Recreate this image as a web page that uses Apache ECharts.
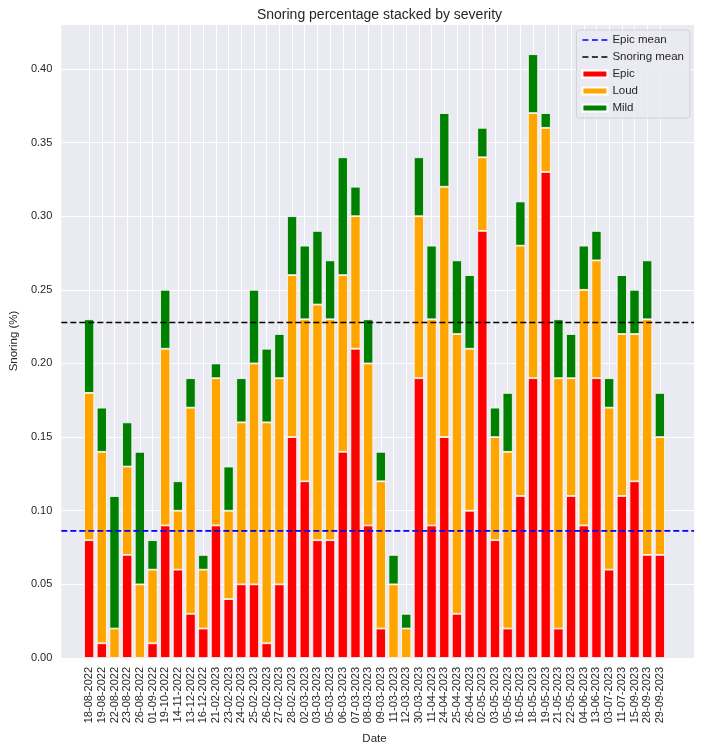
<!DOCTYPE html>
<html>
<head>
<meta charset="utf-8">
<script src="https://cdn.jsdelivr.net/npm/echarts@6/dist/echarts.min.js"></script>
<style>html,body{margin:0;padding:0;background:#fff}#c{width:702px;height:750px}</style>
</head>
<body>
<div id="c"></div>
<script>
const categories = ['18-08-2022','19-08-2022','22-08-2022','23-08-2022','26-08-2022','01-09-2022','19-10-2022','14-11-2022','13-12-2022','16-12-2022',
'21-02-2023','23-02-2023','24-02-2023','25-02-2023','26-02-2023','27-02-2023','28-02-2023','02-03-2023','03-03-2023','05-03-2023',
'06-03-2023','07-03-2023','08-03-2023','09-03-2023','11-03-2023','12-03-2023','30-03-2023','11-04-2023','24-04-2023','25-04-2023',
'26-04-2023','02-05-2023','03-05-2023','05-05-2023','16-05-2023','18-05-2023','19-05-2023','21-05-2023','22-05-2023','04-06-2023',
'13-06-2023','03-07-2023','11-07-2023','15-09-2023','28-09-2023','29-09-2023'];
const epic = [0.08,0.01,0.00,0.07,0.00,0.01,0.09,0.06,0.03,0.02,
0.09,0.04,0.05,0.05,0.01,0.05,0.15,0.12,0.08,0.08,
0.14,0.21,0.09,0.02,0.00,0.00,0.19,0.09,0.15,0.03,
0.10,0.29,0.08,0.02,0.11,0.19,0.33,0.02,0.11,0.09,
0.19,0.06,0.11,0.12,0.07,0.07];
const loud = [0.10,0.13,0.02,0.06,0.05,0.05,0.12,0.04,0.14,0.04,
0.10,0.06,0.11,0.15,0.15,0.14,0.11,0.11,0.16,0.15,
0.12,0.09,0.11,0.10,0.05,0.02,0.11,0.14,0.17,0.19,
0.11,0.05,0.07,0.12,0.17,0.18,0.03,0.17,0.08,0.16,
0.08,0.11,0.11,0.10,0.16,0.08];
const mild = [0.05,0.03,0.09,0.03,0.09,0.02,0.04,0.02,0.02,0.01,
0.01,0.03,0.03,0.05,0.05,0.03,0.04,0.05,0.05,0.04,
0.08,0.02,0.03,0.02,0.02,0.01,0.04,0.05,0.05,0.05,
0.05,0.02,0.02,0.04,0.03,0.04,0.01,0.04,0.03,0.03,
0.02,0.02,0.04,0.03,0.04,0.03];
const yTicks = [0,0.05,0.10,0.15,0.20,0.25,0.30,0.35,0.40];

const n = categories.length;
const totals = epic.map((v,i)=>v+loud[i]+mild[i]);
const epicMean = epic.reduce((a,b)=>a+b,0)/n;
const snoringMean = totals.reduce((a,b)=>a+b,0)/n;
const ymax = Math.max(...totals)*1.05;
const pad = (n-1+0.8)*0.05+0.4; // matplotlib margin in category units
const xlo = -pad, xhi = n-1+pad;

const FONT = "'Liberation Sans', Arial, sans-serif";
const TXT = '#262626';
const chart = echarts.init(document.getElementById('c'));
const W = 702;
const TOP = 24, BOT = 92;
const g0L = 55, g0R = 694;
const unit = (g0R-g0L)/(xhi-xlo);
const g1L = g0L + (0-xlo)*unit;
const g1R = g0L + (n-1-xlo)*unit;
const bw = 0.8*unit;

const dashIcon = 'path://M0,0H0.01V0.01H0Z M0,6.99H0.01V7H0Z M0,2.75H6V4.25H0Z M9.5,2.75H15.5V4.25H9.5Z M19,2.75H25V4.25H19Z';

function barSeries(name, arr, color){
  return {
    name: name, type: 'bar', stack: 'sev', xAxisIndex: 2, yAxisIndex: 2,
    barWidth: bw,
    itemStyle: {color: color, borderColor: '#ffffff', borderWidth: 0.8},
    data: arr, z: 3
  };
}
function meanSeries(name, val, color){
  return {
    name: name, type: 'line', xAxisIndex: 0, yAxisIndex: 0,
    symbol: 'none', silent: true, z: 5,
    lineStyle: {color: color, type: [6,3], width: 1.6},
    itemStyle: {color: color},
    data: [[xlo, val],[xhi, val]]
  };
}

chart.setOption({
  animation: false,
  backgroundColor: '#ffffff',
  textStyle: {fontFamily: FONT},
  title: {
    text: 'Snoring percentage stacked by severity',
    left: (g0L+g0R)/2, top: 3, textAlign: 'center',
    textStyle: {fontSize: 14, fontWeight: 'normal', color: TXT, fontFamily: FONT}
  },
  legend: {
    orient: 'vertical', right: 12, top: 30,
    data: [
      {name: 'Epic mean', icon: dashIcon}, {name: 'Snoring mean', icon: dashIcon},
      {name: 'Epic', icon: 'rect'}, {name: 'Loud', icon: 'rect'}, {name: 'Mild', icon: 'rect'}
    ],
    itemWidth: 25, itemHeight: 7, itemGap: 5,
    padding: [4, 6, 4, 5],
    backgroundColor: 'rgba(234,234,242,0.85)',
    borderColor: '#d0d0d8', borderWidth: 1, borderRadius: 3,
    textStyle: {fontSize: 11.5, color: TXT, fontFamily: FONT}
  },
  grid: [
    {left: g0L, right: W-g0R, top: TOP, bottom: BOT, show: true, backgroundColor: '#EAEAF2', borderWidth: 0},
    {left: g1L, right: W-g1R, top: TOP, bottom: BOT, show: false},
    {left: g1L-unit/2, right: W-(g1R+unit/2), top: TOP, bottom: BOT, show: false}
  ],
  xAxis: [
    {type: 'value', gridIndex: 0, min: xlo, max: xhi, show: false, splitLine: {show: false}},
    {type: 'value', gridIndex: 1, min: 0, max: n-1, interval: 1,
     name: 'Date', nameLocation: 'middle', nameGap: 75,
     nameTextStyle: {fontSize: 11.5, color: TXT, fontFamily: FONT},
     axisLine: {show: false}, axisTick: {show: false},
     splitLine: {show: true, lineStyle: {color: '#ffffff', width: 1}},
     axisLabel: {rotate: 90, fontSize: 11, color: TXT, margin: 9, fontFamily: FONT,
       formatter: v => categories[Math.round(v)] || ''}
    },
    {type: 'category', gridIndex: 2, data: categories, boundaryGap: true, show: false}
  ],
  yAxis: [
    {type: 'value', gridIndex: 0, min: 0, max: ymax, interval: 0.05,
     name: 'Snoring (%)', nameLocation: 'middle', nameGap: 40, nameRotate: 90,
     nameTextStyle: {fontSize: 11.5, color: TXT, fontFamily: FONT},
     axisLine: {show: false}, axisTick: {show: false},
     splitLine: {show: true, lineStyle: {color: '#ffffff', width: 1}},
     axisLabel: {fontSize: 11, color: TXT, margin: 9, fontFamily: FONT, showMaxLabel: false,
       formatter: v => {
         const t = yTicks.find(x => Math.abs(x-v) < 1e-6);
         return t === undefined ? '' : t.toFixed(2);
       }}
    },
    {type: 'value', gridIndex: 1, min: 0, max: ymax, show: false, splitLine: {show: false}},
    {type: 'value', gridIndex: 2, min: 0, max: ymax, show: false, splitLine: {show: false}}
  ],
  series: [
    meanSeries('Epic mean', epicMean, '#0000ff'),
    meanSeries('Snoring mean', snoringMean, '#000000'),
    barSeries('Epic', epic, '#ff0000'),
    barSeries('Loud', loud, '#ffa500'),
    barSeries('Mild', mild, '#008000')
  ]
});
</script>
</body>
</html>
